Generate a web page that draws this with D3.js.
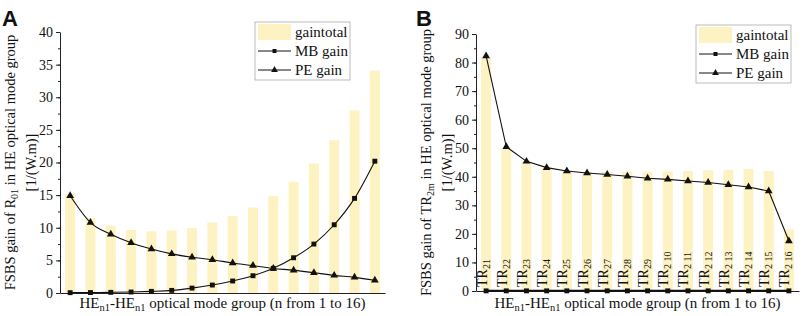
<!DOCTYPE html>
<html>
<head>
<meta charset="utf-8">
<script src="https://cdn.jsdelivr.net/npm/d3@7"></script>
<style>
  body { margin: 0; background: #fff; }
  svg text { font-family: "Liberation Serif", "Times New Roman", serif; fill: #111; }
  .axis path, .axis line { stroke: #222; }
  .panel-tag { font-family: "Liberation Sans", Arial, sans-serif !important; font-weight: bold; }
</style>
</head>
<body>
<div id="chart"></div>
<script>
// mode index 1..16
const modes = d3.range(1, 17);

// panel A: R01 in HE optical mode group
const totalA = [15.2, 11.5, 10.3, 9.65, 9.45, 9.6, 10.0, 10.8, 11.8, 13.1, 14.85, 17.0, 19.85, 23.4, 28.0, 34.1];
const mbA = [0.05, 0.07, 0.1, 0.15, 0.25, 0.4, 0.75, 1.22, 1.84, 2.65, 3.78, 5.4, 7.5, 10.46, 14.5, 20.2];
const peA = [14.9, 10.8, 9.0, 7.7, 6.75, 6.0, 5.48, 5.1, 4.6, 4.2, 3.75, 3.5, 3.1, 2.7, 2.4, 1.95];

// panel B: TR2m in HE optical mode group
const totalB = [82.0, 49.8, 45.3, 43.0, 42.2, 41.7, 41.8, 41.8, 41.8, 41.8, 42.0, 42.3, 42.4, 42.8, 42.0, 21.6];
const mbB = [0.05, 0.05, 0.05, 0.05, 0.05, 0.05, 0.05, 0.05, 0.05, 0.05, 0.05, 0.05, 0.05, 0.05, 0.05, 0.05];
const peB = [82.3, 50.5, 45.4, 43.2, 42.0, 41.3, 40.8, 40.2, 39.5, 39.1, 38.5, 38.0, 37.2, 36.4, 35.0, 17.5];
const trSubs = ["21", "22", "23", "24", "25", "26", "27", "28", "29", "2 10", "2 11", "2 12", "2 13", "2 14", "2 15", "2 16"];

const W = 803, H = 316;
const barColor = "#fdf2c2";

const svg = d3.select("#chart").append("svg")
    .attr("width", W)
    .attr("height", H);

function drawPanel(cfg) {
    let g = svg.append("g");

    let x = d3.scaleBand().domain(modes).range([cfg.x0, cfg.x1]);
    let y = d3.scaleLinear().domain([0, cfg.yMax]).range([cfg.y0, cfg.y1]);
    let bw = 10;

    // bars
    g.selectAll(".bar")
        .data(modes)
        .enter().append("rect")
        .attr("class", "bar")
        .attr("x", d => x(d) + x.bandwidth() / 2 - bw / 2)
        .attr("width", bw)
        .attr("y", (d, i) => y(cfg.total[i]))
        .attr("height", (d, i) => y(0) - y(cfg.total[i]))
        .attr("fill", barColor);

    // TR labels inside bars (panel B)
    if (cfg.barLabels) {
        let t = g.selectAll(".trlab")
            .data(modes)
            .enter().append("text")
            .attr("class", "trlab")
            .attr("transform", d => `translate(${x(d) + x.bandwidth() / 2 + 0.5}, ${y(0) - 4}) rotate(-90)`)
            .style("font-size", "14px");
        t.append("tspan").text("TR");
        t.append("tspan").attr("dy", 3).style("font-size", "10px")
            .text((d, i) => cfg.barLabels[i]);
    }

    // minor ticks
    let minor = g.append("g")
        .attr("class", "axis")
        .attr("transform", `translate(${cfg.x0},0)`)
        .call(d3.axisLeft(y).tickValues(d3.range(0, cfg.yMax + 0.01, cfg.minorStep)).tickSize(2).tickFormat("").tickSizeOuter(0));
    minor.select(".domain").remove();

    // y axis
    let yAxis = g.append("g")
        .attr("class", "axis")
        .attr("transform", `translate(${cfg.x0},0)`)
        .call(d3.axisLeft(y).tickValues(d3.range(0, cfg.yMax + 0.01, cfg.majorStep)).tickSize(4).tickPadding(3).tickSizeOuter(0));
    yAxis.selectAll("text")
        .style("font-family", "Liberation Serif, serif")
        .style("font-size", "14px")
        .attr("fill", "#111");

    // x axis
    g.append("g")
        .attr("class", "axis")
        .attr("transform", `translate(0,${cfg.y0})`)
        .call(d3.axisBottom(x).tickValues([]).tickSizeOuter(0));

    // lines
    let lineMB = d3.line()
        .x((d, i) => x(modes[i]) + x.bandwidth() / 2)
        .y(d => y(d))
        .curve(cfg.curve);

    g.append("path")
        .datum(cfg.mb)
        .attr("d", lineMB)
        .attr("fill", "none")
        .attr("stroke", "#111")
        .attr("stroke-width", cfg.mbWidth);

    g.append("path")
        .datum(cfg.pe)
        .attr("d", lineMB)
        .attr("fill", "none")
        .attr("stroke", "#111")
        .attr("stroke-width", 1.1);

    // markers
    g.selectAll(".sq")
        .data(cfg.mb)
        .enter().append("path")
        .attr("class", "sq")
        .attr("transform", (d, i) => `translate(${x(modes[i]) + x.bandwidth() / 2},${y(d)})`)
        .attr("d", d3.symbol(d3.symbolSquare, 24))
        .attr("fill", "#111");

    g.selectAll(".tri")
        .data(cfg.pe)
        .enter().append("path")
        .attr("class", "tri")
        .attr("transform", (d, i) => `translate(${x(modes[i]) + x.bandwidth() / 2},${y(d)})`)
        .attr("d", d3.symbol(d3.symbolTriangle, 26))
        .attr("fill", "#111");

    // y label
    let cy = (cfg.y0 + cfg.y1) / 2;
    let yl = g.append("text")
        .attr("transform", `translate(${cfg.x0 - 45}, ${cy}) rotate(-90)`)
        .attr("text-anchor", "middle")
        .style("font-size", "14.5px");
    yl.append("tspan").text("FSBS gain of " + cfg.yName);
    yl.append("tspan").attr("dy", 3).style("font-size", "10px").text(cfg.ySub);
    yl.append("tspan").attr("dy", -3).text(" in HE optical mode group");

    g.append("text")
        .attr("transform", `translate(${cfg.x0 - 24}, ${cy}) rotate(-90)`)
        .attr("text-anchor", "middle")
        .style("font-size", "14.5px")
        .text("[1/(W.m)]");

    // x label
    let xl = g.append("text")
        .attr("x", (cfg.x0 + cfg.x1) / 2)
        .attr("y", 308)
        .attr("text-anchor", "middle")
        .style("font-size", "15px");
    xl.append("tspan").text("HE");
    xl.append("tspan").attr("dy", 3).style("font-size", "10.5px").text("n1");
    xl.append("tspan").attr("dy", -3).text("-HE");
    xl.append("tspan").attr("dy", 3).style("font-size", "10.5px").text("n1");
    xl.append("tspan").attr("dy", -3).text(" optical mode group (n from 1 to 16)");

    // panel tag
    g.append("text")
        .attr("class", "panel-tag")
        .attr("x", cfg.tagX)
        .attr("y", 26)
        .style("font-size", "22px")
        .text(cfg.tag);

    // legend
    let lg = g.append("g").attr("transform", `translate(${cfg.legX},${cfg.legY})`);
    lg.append("rect")
        .attr("width", 95).attr("height", 58)
        .attr("fill", "#fff")
        .attr("stroke", "#aaa")
        .attr("stroke-width", 0.8);
    lg.append("rect")
        .attr("x", 3).attr("y", 2).attr("width", 33).attr("height", 16)
        .attr("fill", barColor);
    let names = ["gaintotal", "MB gain", "PE gain"];
    names.forEach((n, i) => {
        lg.append("text")
            .attr("x", 40).attr("y", 15 + i * 19)
            .style("font-size", "15px")
            .text(n);
    });
    [1, 2].forEach(i => {
        let ly = 10 + i * 19;
        lg.append("line")
            .attr("x1", 3).attr("x2", 36)
            .attr("y1", ly).attr("y2", ly)
            .attr("stroke", "#111");
        lg.append("path")
            .attr("transform", `translate(19.5,${ly})`)
            .attr("d", d3.symbol(i === 1 ? d3.symbolSquare : d3.symbolTriangle, i === 1 ? 16 : 20))
            .attr("fill", "#111");
    });
}

drawPanel({
    x0: 60, x1: 385, y0: 293, y1: 32, yMax: 40, majorStep: 5, minorStep: 2.5,
    total: totalA, mb: mbA, pe: peA, curve: d3.curveMonotoneX, mbWidth: 1.1,
    yName: "R", ySub: "01", tag: "A", tagX: 2, legX: 255, legY: 22
});

drawPanel({
    x0: 476, x1: 799, y0: 291, y1: 34, yMax: 90, majorStep: 10, minorStep: 5,
    total: totalB, mb: mbB, pe: peB, curve: d3.curveLinear, mbWidth: 2,
    barLabels: trSubs,
    yName: "TR", ySub: "2m", tag: "B", tagX: 416, legX: 696, legY: 25
});
</script>
</body>
</html>
